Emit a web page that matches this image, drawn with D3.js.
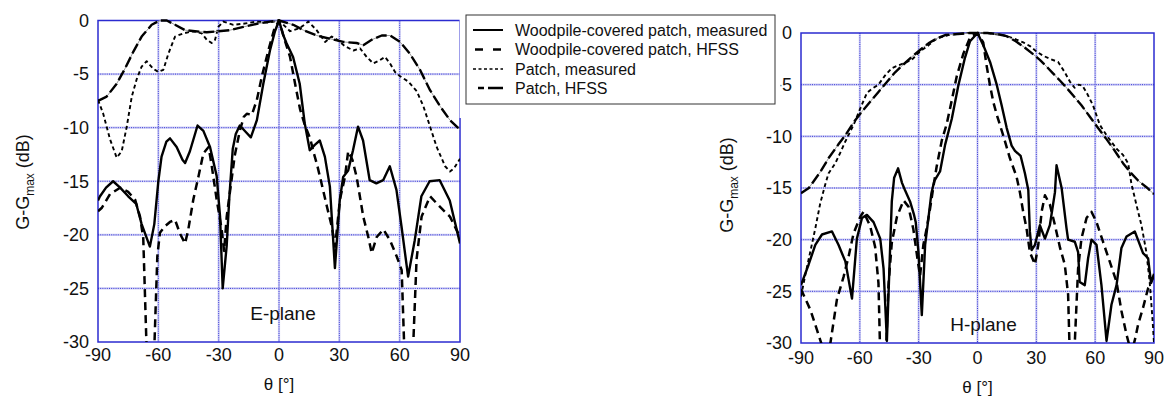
<!DOCTYPE html>
<html><head><meta charset="utf-8">
<script src="https://cdn.jsdelivr.net/npm/d3@7"></script>
<style>
body{margin:0;background:#fff}
svg{display:block}
text{font-family:"Liberation Sans",Arial,sans-serif;fill:#111}
</style>
</head><body>
<svg id="c" width="1167" height="397"></svg>
<script>
// ---------- data ----------
const xTicks = [-90, -60, -30, 0, 30, 60, 90];
const yTicks = [0, -5, -10, -15, -20, -25, -30];
const seriesNames = ["Woodpile-covered patch, measured", "Woodpile-covered patch, HFSS", "Patch, measured", "Patch, HFSS"];
const planeLabels = ["E-plane", "H-plane"];

// E-plane [theta, dB]
const eWoodMeas = [[-90,-16.8],[-89,-16.4],[-86,-15.6],[-82.5,-15.0],[-79,-15.6],[-75,-16.4],[-71,-17.1],[-68.3,-19.0],[-64.2,-21.1],[-62,-19.0],[-60,-15.0],[-58.4,-12.7],[-56,-11.3],[-54.2,-11.0],[-50.9,-11.8],[-48,-13.0],[-46.7,-13.3],[-44.3,-12.2],[-40.5,-9.8],[-37.6,-10.3],[-34.3,-11.8],[-31,-14.5],[-29.3,-18.3],[-28,-25.0],[-26,-21.0],[-24.7,-16.5],[-23,-12.0],[-21.5,-10.6],[-19.5,-9.8],[-16.5,-10.4],[-14,-10.9],[-11,-9.3],[-7.8,-5.9],[-4.5,-2.8],[-2,-1.0],[0,0],[2,-1.3],[3.7,-2.1],[7,-3.4],[10.3,-5.9],[12.8,-9.6],[15.3,-12.1],[17.8,-11.6],[20.3,-11.2],[22.8,-12.7],[25.3,-15.5],[27.8,-23.1],[30.2,-16.8],[31.9,-14.6],[34.4,-14.0],[36.8,-12.1],[39.3,-9.9],[41.8,-11.2],[45.1,-14.9],[48.4,-15.2],[51.8,-14.9],[55.1,-13.6],[58.4,-15.8],[60.9,-19.2],[64.2,-23.9],[67.5,-20.5],[70.8,-16.4],[74.9,-15.0],[79.9,-14.9],[84.9,-16.8],[90,-20.8]];
const eWoodHfss = [[-90,-17.8],[-88.2,-17.5],[-84,-16.2],[-79,-15.6],[-75,-16.0],[-71.6,-16.7],[-69.1,-18.3],[-67.5,-20.3],[-64,-42],[-60.5,-22],[-59.2,-19.8],[-56.7,-19.2],[-54.2,-18.8],[-51.7,-18.6],[-49.2,-19.9],[-46.7,-20.8],[-45.1,-19.5],[-42.6,-16.7],[-40.1,-14.6],[-37.6,-12.4],[-35,-11.8],[-33.5,-13.5],[-31,-16.7],[-28.5,-19.5],[-27.3,-21.5],[-26,-18.3],[-24.4,-16.0],[-22,-12.6],[-19.5,-10.3],[-17.5,-9.0],[-16,-8.7],[-13.5,-8.8],[-11,-7.4],[-8.5,-5.2],[-5.3,-2.8],[-2.5,-0.9],[0,0],[2.8,-1.8],[5.5,-3.4],[8,-5.9],[10.5,-8.3],[12.9,-9.8],[15.5,-11.0],[16.9,-12.1],[19,-13.5],[21.9,-15.8],[24,-17.5],[26.2,-19.2],[27.9,-21.1],[30.3,-16.7],[32.8,-14.6],[34.4,-12.2],[36.5,-13.0],[38.6,-14.6],[41.9,-18.3],[44.4,-20.2],[46.1,-21.7],[48.6,-20.2],[51.9,-19.5],[55.2,-20.5],[58.5,-22.0],[61,-23.3],[64.3,-42],[68.4,-22.3],[70.9,-18.3],[75.1,-16.4],[80.1,-17.4],[85,-18.3],[90,-20.2]];
const ePatchMeas = [[-90,-7.4],[-87.4,-8.7],[-84,-11.1],[-80.7,-12.8],[-78.2,-12.2],[-75.7,-9.9],[-73.2,-7.1],[-70.8,-5.5],[-68.3,-4.3],[-65.8,-3.8],[-62.5,-4.5],[-60,-4.8],[-57.5,-4.6],[-55,-3.1],[-51.7,-1.5],[-47.6,-1.2],[-42.6,-1.0],[-38.4,-1.2],[-35.9,-1.8],[-33.5,-2.1],[-31.8,-1.8],[-30.2,-0.6],[-27.7,-0.1],[-22.7,-0.4],[-17.7,-0.3],[-11,-0.1],[-5,-0.2],[0,0],[5.5,-1.0],[10.4,-0.7],[14.6,-0.1],[18.7,-0.9],[22.9,-2.0],[26.2,-1.5],[29,-1.8],[32.8,-2.4],[37,-2.8],[40.3,-2.6],[43.6,-3.4],[46.9,-4.0],[50.2,-3.7],[52.7,-3.4],[55.2,-4.0],[57.7,-4.8],[60.2,-5.2],[64.3,-5.7],[68.5,-6.6],[71.8,-8.0],[75.1,-9.9],[78.4,-11.8],[82.6,-13.6],[85,-14.1],[87,-13.8],[90,-12.9]];
const ePatchHfss = [[-90,-7.5],[-85.7,-7.1],[-80.7,-5.9],[-76.6,-4.5],[-72.4,-2.9],[-68.3,-1.5],[-63.3,-0.4],[-59.2,0],[-55.8,0],[-51.7,-0.4],[-46.7,-0.9],[-41.8,-1.0],[-35.9,-1.1],[-30.2,-1.0],[-24.4,-0.9],[-17.7,-0.6],[-11,-0.3],[-4.4,-0.1],[0,0],[7.1,-0.4],[12.1,-0.9],[18.7,-1.4],[25.3,-1.7],[32,-2.0],[38.6,-2.1],[41.9,-2.3],[46.1,-1.8],[51.1,-1.4],[55.2,-1.4],[60.2,-2.0],[65.1,-3.1],[70.1,-4.6],[75.1,-6.5],[80.1,-8.0],[85,-9.3],[90,-10.2]];

// H-plane [theta, dB]
const hWoodMeas = [[-90,-24.4],[-86.1,-22.4],[-82.7,-20.5],[-79.3,-19.5],[-74.2,-19.2],[-70.9,-20.5],[-67.4,-22.1],[-64,-25.7],[-61.5,-19.9],[-58.9,-17.9],[-56.4,-17.6],[-53,-18.3],[-49.6,-19.9],[-47.9,-22.8],[-46.2,-29.8],[-44.5,-20.5],[-43.7,-16.3],[-42.5,-14.0],[-40.5,-13.1],[-38.5,-14.5],[-37,-15.2],[-34.4,-16.3],[-32.5,-17.5],[-31.5,-18.3],[-30.1,-21.2],[-28.4,-27.3],[-26.7,-20.5],[-25,-17.9],[-23.5,-15.5],[-22,-14.3],[-19.1,-13.4],[-16.5,-10.8],[-13.1,-8.3],[-9.8,-5.1],[-6.4,-2.4],[-3.8,-0.8],[0,0],[3,-1.2],[6.4,-2.8],[9.8,-5.0],[12.3,-7.0],[14.9,-9.2],[17.4,-10.9],[19.1,-11.4],[22,-11.9],[24.2,-13.6],[25.9,-15.2],[26.7,-19.2],[27.6,-21.0],[29.3,-20.5],[31.8,-18.6],[34.4,-19.9],[36.9,-18.6],[39.5,-15.4],[40.3,-12.8],[42.9,-15.0],[45.4,-18.9],[46.2,-20.0],[49.6,-20.2],[51.3,-21.2],[52.1,-24.1],[54.7,-24.4],[56.4,-21.8],[58.1,-20.0],[60.7,-20.5],[63.2,-24.4],[65.8,-29.8],[68.3,-26.3],[70.9,-24.4],[73.4,-20.8],[76,-19.7],[80.2,-19.2],[84.4,-21.3],[87,-21.8],[88.5,-24.2],[90,-23.3]];
const hWoodHfss = [[-90,-24.8],[-85.2,-26.8],[-81.9,-28.7],[-78,-31],[-75,-30],[-71.7,-25.8],[-68.3,-23.6],[-65.7,-21.6],[-63.2,-19.4],[-59.8,-17.8],[-58.1,-17.3],[-54.7,-18.7],[-52.2,-20.7],[-50.5,-24.2],[-48.5,-40],[-46.5,-30],[-45.4,-24.4],[-43.7,-20.3],[-41.1,-17.8],[-37.7,-16.2],[-35.2,-16.8],[-32.7,-19.0],[-30.5,-22.0],[-29.3,-23.5],[-27.6,-20.5],[-25.9,-18.9],[-24.2,-17.0],[-22.5,-14.9],[-20.8,-12.9],[-18.2,-10.4],[-15.7,-8.8],[-13.1,-6.5],[-10.6,-4.2],[-7.2,-2.0],[-3.7,-0.4],[0,0],[2.9,-0.9],[4.6,-3.1],[6.4,-5.1],[8.1,-6.7],[9.8,-7.9],[13.1,-9.9],[16.5,-12.1],[19.9,-13.9],[21.6,-15.4],[23.3,-17.3],[25,-18.9],[26.7,-21.2],[29.3,-22.4],[31,-20.5],[32.7,-17.3],[34.4,-15.7],[36.9,-16.6],[39.5,-18.6],[42.1,-20.8],[44.5,-22.4],[46.2,-25.3],[48.3,-40],[49.6,-30],[51.3,-22.8],[53,-19.9],[55.6,-17.9],[58.1,-17.3],[60.7,-18.3],[64,-20.2],[67.4,-22.1],[70.9,-24.1],[73.4,-26.9],[76,-29.2],[78.5,-31],[80.5,-29.5],[81.9,-28.2],[84.4,-26.6],[87,-24.7],[90,-23.5]];
const hPatchMeas = [[-90,-25.5],[-87.8,-23.4],[-85.3,-21.2],[-82.7,-18.9],[-80.2,-16.5],[-77.7,-14.7],[-76,-13.6],[-72.5,-12.6],[-70,-11.6],[-67.4,-10.5],[-63.2,-8.9],[-58.9,-6.9],[-56.4,-5.8],[-53.9,-5.4],[-50.5,-5.0],[-47.1,-4.1],[-43.7,-3.4],[-40,-3.1],[-36,-2.8],[-33.5,-2.6],[-30.5,-2.0],[-28,-1.6],[-25,-1.2],[-22,-0.7],[-20,-0.5],[-15,-0.2],[-10,-0.1],[-5,0],[0,0],[5,0],[13.1,-0.2],[18,-0.5],[23.3,-0.9],[27,-1.3],[30.1,-1.8],[33.5,-2.2],[36.9,-2.5],[41.1,-2.8],[44.5,-3.8],[47.1,-4.7],[49.5,-5.3],[51.5,-5.0],[53.5,-5.1],[56,-5.9],[58.9,-7.0],[62.4,-8.9],[65.8,-9.9],[70.9,-11.2],[74.2,-11.8],[76.8,-12.6],[78.5,-14.6],[81,-16.6],[83.6,-18.6],[86.1,-21.2],[87.8,-24.1],[89.2,-27.6],[90,-30]];
const hPatchHfss = [[-90,-15.5],[-86,-15.0],[-80,-13.4],[-75.9,-12.1],[-71,-10.8],[-67.4,-9.9],[-63,-8.6],[-58.9,-7.6],[-54.5,-6.6],[-50.5,-5.7],[-46,-4.7],[-42,-3.8],[-37.5,-3.0],[-33.5,-2.3],[-29,-1.6],[-25,-1.0],[-20.5,-0.5],[-16.5,-0.2],[-10,-0.1],[-4,0],[0,0],[5,0],[10,-0.1],[14.8,-0.3],[19.5,-0.8],[24,-1.4],[28,-2.0],[31.8,-2.6],[35,-3.2],[38.5,-3.9],[42,-4.6],[45.4,-5.3],[49,-6.1],[53,-7.0],[57.3,-8.1],[61.5,-9.2],[65.5,-10.2],[70,-11.4],[74.2,-12.6],[78,-13.5],[82,-14.3],[86,-14.9],[90,-15.6]];

// ---------- drawing ----------
const svg = d3.select("#c");
const GRID_DOT = "#3a3ad8", GRID_HALO = "#cfcff4", FRAME = "#2b2bd0";

const styleDefs = [
  {w: 2.4, dash: null, under: false},
  {w: 2.5, dash: "8,5", under: false},
  {w: 1.9, dash: "4,3", under: false},
  {w: 2.4, dash: "11,4", under: true}
];

function drawLine(g, data, st, x, y) {
  const gen = d3.line().x(d => x(d[0])).y(d => y(d[1]));
  if (st.under) {
    g.append("path").attr("d", gen(data)).attr("fill", "none")
      .attr("stroke", "#9a9a9a").attr("stroke-width", 1);
  }
  const p = g.append("path").attr("d", gen(data)).attr("fill", "none")
    .attr("stroke", "#000").attr("stroke-width", st.w)
    .attr("stroke-linejoin", "round");
  if (st.dash) p.attr("stroke-dasharray", st.dash);
}

function panel(cfg) {
  const x = d3.scaleLinear().domain([-90, 90]).range([cfg.x0, cfg.x1]);
  const y = d3.scaleLinear().domain([0, -30]).range([cfg.y0, cfg.y1]);
  const g = svg.append("g");

  // grid
  const inner = xTicks.slice(1, -1), innerY = yTicks.slice(1, -1);
  [[GRID_HALO, 2.2, null], [GRID_DOT, 1, "1,1.2"]].forEach(([c, w, da]) => {
    inner.forEach(t => {
      const l = g.append("line").attr("x1", x(t)).attr("x2", x(t)).attr("y1", cfg.y0).attr("y2", cfg.y1)
        .attr("stroke", c).attr("stroke-width", w);
      if (da) l.attr("stroke-dasharray", da);
    });
    innerY.forEach(t => {
      const l = g.append("line").attr("y1", y(t)).attr("y2", y(t)).attr("x1", cfg.x0).attr("x2", cfg.x1)
        .attr("stroke", c).attr("stroke-width", w);
      if (da) l.attr("stroke-dasharray", da);
    });
  });

  // frame
  g.append("rect").attr("x", cfg.x0).attr("y", cfg.y0)
    .attr("width", cfg.x1 - cfg.x0).attr("height", cfg.y1 - cfg.y0)
    .attr("fill", "none").attr("stroke", FRAME).attr("stroke-width", 1.5);

  // tick labels
  g.selectAll(".xt").data(xTicks).enter().append("text")
    .attr("x", d => x(d)).attr("y", cfg.xLabY).attr("text-anchor", "middle")
    .attr("font-size", 18).text(d => d);
  g.selectAll(".yt").data(yTicks).enter().append("text")
    .attr("x", cfg.x0 - 9).attr("y", d => y(d)).attr("dy", "0.35em").attr("text-anchor", "end")
    .attr("font-size", 18).text(d => d);

  // curves
  const clipId = "clip" + cfg.id;
  svg.append("clipPath").attr("id", clipId).append("rect")
    .attr("x", cfg.x0).attr("y", cfg.y0 - 2).attr("width", cfg.x1 - cfg.x0).attr("height", cfg.y1 - cfg.y0 + 2);
  const cg = g.append("g").attr("clip-path", `url(#${clipId})`);
  cfg.series.forEach((s, i) => drawLine(cg, s, styleDefs[i], x, y));

  // plane label
  g.append("text").attr("x", cfg.planeX).attr("y", cfg.planeY).attr("text-anchor", "middle")
    .attr("font-size", 19).text(cfg.plane);

  // axis titles
  g.append("text").attr("x", (cfg.x0 + cfg.x1) / 2).attr("y", cfg.xTitleY).attr("text-anchor", "middle")
    .attr("font-size", 17).text("θ [°]");
  const yt = g.append("text").attr("transform", `translate(${cfg.yTitleX},${cfg.yTitleY}) rotate(-90)`)
    .attr("text-anchor", "middle").attr("font-size", 18);
  yt.append("tspan").text("G-G");
  yt.append("tspan").attr("font-size", 12).attr("dy", 5).text("max");
  yt.append("tspan").attr("dy", -5).text(" (dB)");
}

panel({id: 1, x0: 98, x1: 460, y0: 20.5, y1: 342, xLabY: 361, xTitleY: 390,
  yTitleX: 28.5, yTitleY: 182, plane: planeLabels[0], planeX: 283, planeY: 320,
  series: [eWoodMeas, eWoodHfss, ePatchMeas, ePatchHfss]});
panel({id: 2, x0: 801, x1: 1154, y0: 33, y1: 343, xLabY: 364, xTitleY: 393,
  yTitleX: 733, yTitleY: 185, plane: planeLabels[1], planeX: 983.5, planeY: 331,
  series: [hWoodMeas, hWoodHfss, hPatchMeas, hPatchHfss]});

// legend
const lg = svg.append("g");
lg.append("rect").attr("x", 459.6).attr("y", 8).attr("width", 321).attr("height", 110).attr("fill", "#fff");
lg.append("rect").attr("x", 466).attr("y", 15).attr("width", 309).attr("height", 89)
  .attr("fill", "#fff").attr("stroke", "#333").attr("stroke-width", 1);
const rowsY = [30, 49.5, 69, 88];
const samples = [
  {x1: 473, x2: 503, w: 2, dash: null},
  {x1: 475, x2: 501, w: 2.4, dash: "8,10"},
  {x1: 473, x2: 503, w: 1.4, dash: "3,2.5"},
  {x1: 478, x2: 503, w: 2.3, dash: "6,4,16"}
];
seriesNames.forEach((n, i) => {
  const s = samples[i];
  const l = lg.append("line").attr("x1", s.x1).attr("x2", s.x2).attr("y1", rowsY[i]).attr("y2", rowsY[i])
    .attr("stroke", "#000").attr("stroke-width", s.w);
  if (s.dash) l.attr("stroke-dasharray", s.dash);
  lg.append("text").attr("x", 515).attr("y", rowsY[i]).attr("dy", "0.36em")
    .attr("font-size", 16).text(n);
});
</script>
</body></html>
